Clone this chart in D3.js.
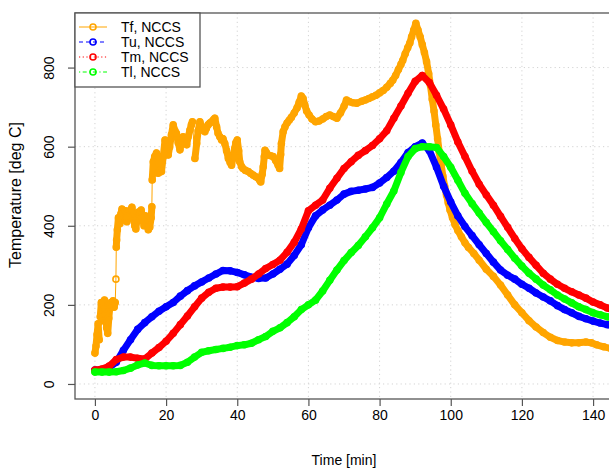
<!DOCTYPE html>
<html>
<head>
<meta charset="utf-8">
<script src="https://cdn.jsdelivr.net/npm/d3@7"></script>
<style>
  body { margin: 0; background: #fff; }
  svg { display: block; }
  text { font-family: "Liberation Sans", Arial, Helvetica, sans-serif; fill: #000; }
</style>
</head>
<body>
<svg id="chart" width="609" height="470"></svg>
<script>
// ---- data -------------------------------------------------------------
// Tf (flame / fire temperature), irregular sampling
const tfTime = [0.0,0.3,0.6,0.9,1.2,1.5,1.8,2.1,2.4,2.7,3.0,3.3,3.6,3.9,4.2,4.5,4.8,5.1,5.4,5.7,5.9,6.0,6.1,6.3,6.6,7.0,7.3,7.6,8.0,8.3,8.6,9.0,9.3,9.6,10.0,10.4,10.8,11.2,11.5,11.9,12.3,12.7,13.0,13.4,13.8,14.2,14.6,15.0,15.4,15.8,16.0,16.1,16.4,16.8,17.3,17.8,18.3,18.7,19.2,19.7,20.2,20.6,21.0,21.5,22.0,22.5,22.9,23.4,23.9,24.4,24.8,25.3,25.8,26.2,26.7,27.1,27.4,28.1,28.6,29.0,29.5,30.0,30.4,30.9,31.3,31.8,32.3,32.8,33.3,33.7,34.2,34.6,35.1,35.6,36.0,36.5,37.0,37.5,38.0,38.4,38.9,39.3,39.6,40.0,40.4,40.7,41.2,41.6,42.3,43.1,43.8,44.5,45.2,45.9,46.3,46.6,47.0,47.3,47.6,47.8,48.2,48.7,49.4,50.1,50.8,51.5,51.9,52.2,52.4,52.9,53.4,54.0,54.6,55.2,56.0,56.8,57.4,58.0,58.5,59.0,59.5,60.2,61.0,62.0,63.0,64.0,65.0,66.0,67.0,68.0,69.0,70.0,70.7,71.5,72.5,73.6,75.0,76.0,77.0,78.0,79.0,80.0,81.0,82.0,83.0,83.7,84.5,85.3,86.0,86.5,87.2,87.9,88.5,89.0,89.6,90.2,90.8,91.4,92.0,92.6,93.2,93.8,94.3,94.8,95.3,95.8,96.3,96.8,97.3,97.8,98.3,98.8,99.3,99.8,100.5,101.2,102.0,103.0,104.0,105.0,106.5,108.0,110.0,112.0,114.0,116.0,118.0,120.0,122.0,124.0,126.0,128.0,130.0,132.0,134.0,136.0,138.0,139.5,141.0,143.0,145.0,146.0];
const tfTemp = [78,96,125,152,112,170,206,160,188,212,176,142,128,166,196,206,198,210,194,206,265,346,364,390,420,405,430,442,415,426,438,410,432,420,440,447,425,400,392,420,435,428,440,418,400,425,410,390,396,420,448,516,562,575,584,533,540,537,575,617,600,579,599,630,655,640,634,610,592,615,625,612,605,625,642,655,663,570,608,640,663,650,642,638,646,655,660,663,668,672,650,634,625,617,620,608,590,570,560,553,575,596,610,617,590,562,550,545,540,537,532,528,524,520,515,511,530,549,575,591,585,579,577,575,565,553,545,580,608,638,650,660,667,674,685,698,712,728,722,705,690,680,670,663,665,670,676,680,676,672,685,702,718,714,711,710,715,718,722,726,730,736,742,750,760,768,780,795,808,818,835,850,862,878,895,912,895,878,858,838,815,785,755,720,690,655,620,585,555,525,500,478,458,440,420,403,388,372,357,345,330,313,290,272,250,225,200,180,160,144,130,118,110,106,104,104,106,104,99,94,90,88];

// Tu, Tm, Tl share a regular time base [min]
const gridTime = [0,2,4,6,8,10,12,14,16,18,20,22,24,26,28,30,32,34,36,38,40,42,44,46,48,50,52,54,56,58,60,62,64,66,68,70,72,74,76,78,80,82,84,86,88,90,92,94,96,98,100,102,104,106,108,110,112,114,116,118,120,122,124,126,128,130,132,134,136,138,140,142,144,146];
const tuTemp = [35,36,42,55,85,112,138,155,170,184,195,206,222,236,248,258,268,278,287,286,282,276,270,267,268,278,290,303,325,352,395,425,440,452,465,480,487,490,493,497,508,522,538,560,585,600,609,590,548,500,460,425,398,375,352,330,308,288,275,265,252,242,230,220,210,198,188,180,171,165,159,154,150,147];
const tmTemp = [35,38,45,62,68,68,65,63,78,92,108,128,150,172,195,217,232,242,245,245,246,255,265,278,292,302,313,333,358,392,438,452,465,495,520,545,562,578,590,603,620,640,672,703,735,765,780,762,730,695,655,612,575,538,505,478,452,424,396,368,342,320,300,280,265,252,242,233,225,217,207,200,192,186];
const tlTemp = [30,30,30,31,34,40,48,53,47,46,46,46,47,55,68,80,84,87,90,93,97,99,103,112,120,133,142,155,170,188,200,212,235,262,288,312,332,350,372,395,420,455,488,535,575,595,600,600,598,575,548,515,482,456,432,408,385,362,340,318,298,280,265,250,238,225,215,205,195,188,180,175,170,166];

const seriesNames = ["Tf, NCCS", "Tu, NCCS", "Tm, NCCS", "Tl, NCCS"];
const xTicks = [0, 20, 40, 60, 80, 100, 120, 140];
const yTicks = [0, 200, 400, 600, 800];

// ---- styles -----------------------------------------------------------
const colors = ["#FFA500", "#0000FF", "#FF0000", "#00FF00"];
const dashes = [null, "4,3", "1.2,2.5", "1.2,2.5,4,2.5"];

// ---- layout -----------------------------------------------------------
const plot = { left: 75, top: 13, right: 613, bottom: 399 };

const svg = d3.select("#chart");

const x = d3.scaleLinear().domain([-5.6, 145.6]).range([plot.left, plot.right]);
const y = d3.scaleLinear().domain([-38, 938]).range([plot.bottom, plot.top]);

svg.append("defs").append("clipPath").attr("id", "plotClip")
  .append("rect")
  .attr("x", plot.left).attr("y", plot.top)
  .attr("width", plot.right - plot.left).attr("height", plot.bottom - plot.top);

// grid
const grid = svg.append("g").attr("stroke", "#d3d3d3").attr("stroke-width", 1)
  .attr("stroke-dasharray", "1.2,3.2").attr("clip-path", "url(#plotClip)");
grid.selectAll("line.v").data(xTicks).enter().append("line")
  .attr("x1", d => x(d)).attr("x2", d => x(d))
  .attr("y1", plot.top).attr("y2", plot.bottom);
grid.selectAll("line.h").data(yTicks).enter().append("line")
  .attr("x1", plot.left).attr("x2", plot.right)
  .attr("y1", d => y(d)).attr("y2", d => y(d));

// series: thin connecting line, solid band where samples are dense, open circles
const marks = svg.append("g").attr("clip-path", "url(#plotClip)");

function drawSeries(times, temps, color, dash) {
  const g = marks.append("g");
  const pts = times.map((t, i) => [x(t), y(temps[i])]);
  const line = d3.line();
  g.append("path").attr("d", line(pts))
    .attr("fill", "none").attr("stroke", color).attr("stroke-width", 1)
    .attr("stroke-dasharray", dash);
  const runs = [];
  let run = [pts[0]];
  for (let i = 1; i < pts.length; i++) {
    const d = Math.hypot(pts[i][0] - pts[i - 1][0], pts[i][1] - pts[i - 1][1]);
    if (d < 22) run.push(pts[i]);
    else { runs.push(run); run = [pts[i]]; }
  }
  runs.push(run);
  runs.filter(r => r.length > 1).forEach(r => {
    g.append("path").attr("d", line(r))
      .attr("fill", "none").attr("stroke", color).attr("stroke-width", 7)
      .attr("stroke-linejoin", "round").attr("stroke-linecap", "round");
  });
  g.selectAll("circle").data(pts).enter().append("circle")
    .attr("cx", d => d[0]).attr("cy", d => d[1]).attr("r", 3)
    .attr("fill", "none").attr("stroke", color).attr("stroke-width", 1.6);
}

drawSeries(tfTime, tfTemp, colors[0], dashes[0]);
drawSeries(gridTime, tuTemp, colors[1], dashes[1]);
drawSeries(gridTime, tmTemp, colors[2], dashes[2]);
drawSeries(gridTime, tlTemp, colors[3], dashes[3]);

// axes
const xAxis = svg.append("g").attr("transform", `translate(0,${plot.bottom})`)
  .call(d3.axisBottom(x).tickValues(xTicks).tickSize(7).tickPadding(4).tickSizeOuter(0));
xAxis.select(".domain").remove();
xAxis.selectAll(".tick line").attr("stroke", "#555").attr("stroke-width", 1.2);
xAxis.selectAll(".tick text").attr("font-size", 14).attr("fill", "#000")
  .style("font-family", '"Liberation Sans", Arial, sans-serif');

const yAxis = svg.append("g").attr("transform", `translate(${plot.left},0)`)
  .call(d3.axisLeft(y).tickValues(yTicks).tickSize(7).tickSizeOuter(0));
yAxis.select(".domain").remove();
yAxis.selectAll(".tick line").attr("stroke", "#555").attr("stroke-width", 1.2);
yAxis.selectAll(".tick text")
  .attr("font-size", 14).attr("fill", "#000")
  .style("font-family", '"Liberation Sans", Arial, sans-serif')
  .attr("text-anchor", "middle").attr("dy", null)
  .attr("x", 0).attr("y", -21)
  .attr("transform", "rotate(-90)");

// plot frame
svg.append("rect")
  .attr("x", plot.left).attr("y", plot.top)
  .attr("width", plot.right - plot.left).attr("height", plot.bottom - plot.top)
  .attr("fill", "none").attr("stroke", "#555").attr("stroke-width", 1.3);

// axis titles
svg.append("text").attr("x", (plot.left + plot.right) / 2).attr("y", 465)
  .attr("text-anchor", "middle").attr("font-size", 14).text("Time [min]");
svg.append("text").attr("transform", `translate(21,195) rotate(-90)`)
  .attr("text-anchor", "middle").attr("font-size", 16).text("Temperature [deg C]");

// legend
const legend = svg.append("g");
legend.append("rect").attr("x", plot.left).attr("y", plot.top)
  .attr("width", 125).attr("height", 74)
  .attr("fill", "#fff").attr("stroke", "#555").attr("stroke-width", 1.3);
const rowY = [27, 42, 57, 72];
seriesNames.forEach((name, i) => {
  const cy = rowY[i];
  legend.append("line").attr("x1", 79).attr("x2", 107).attr("y1", cy).attr("y2", cy)
    .attr("stroke", colors[i]).attr("stroke-width", 1).attr("stroke-dasharray", dashes[i]);
  legend.append("circle").attr("cx", 93).attr("cy", cy).attr("r", 3)
    .attr("fill", "none").attr("stroke", colors[i]).attr("stroke-width", 1.6);
  legend.append("text").attr("x", 121).attr("y", cy + 5).attr("font-size", 14).text(name);
});
</script>
</body>
</html>
